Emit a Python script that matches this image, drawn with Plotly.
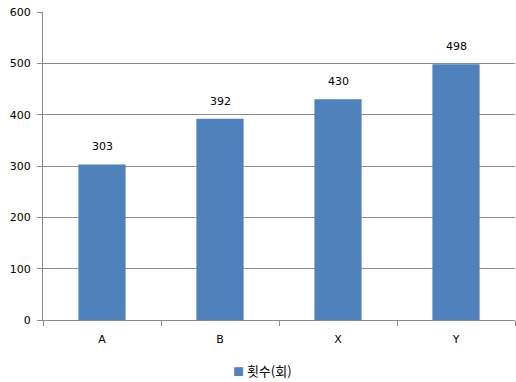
import plotly.graph_objects as go

categories = ["A", "B", "X", "Y"]
counts = [303, 392, 430, 498]
series_name = "횟수(회)"
y_ticks = [0, 100, 200, 300, 400, 500, 600]

font_family = "DejaVu Sans, Verdana, sans-serif"
kr_family = "Noto Sans CJK KR, Noto Sans, sans-serif"
bar_color = "#4f81bd"
grid_color = "#8c8c8c"

fig = go.Figure(
    go.Bar(
        x=categories,
        y=counts,
        name=series_name,
        marker=dict(color=bar_color, line=dict(width=0)),
        showlegend=False,
    )
)

# value labels above each bar
for cat, val in zip(categories, counts):
    fig.add_annotation(
        x=cat,
        y=val,
        text=str(val),
        showarrow=False,
        xref="x",
        yref="y",
        yanchor="bottom",
        yshift=9,
        font=dict(size=11, color="#000000", family=font_family),
    )

# legend entry below the plot
fig.add_annotation(
    x=0.464,
    y=-0.165,
    xref="paper",
    yref="paper",
    xanchor="center",
    yanchor="middle",
    showarrow=False,
    text=f"<span style='color:{bar_color};font-size:11px'>■</span> {series_name}",
    font=dict(size=13, color="#000000", family=kr_family),
)

fig.update_layout(
    width=516,
    height=382,
    margin=dict(l=43, r=1, t=12, b=62, autoexpand=False),
    paper_bgcolor="white",
    plot_bgcolor="white",
    bargap=0.6,
    showlegend=False,
    font=dict(family=font_family, size=11, color="#000000"),
)

fig.update_xaxes(
    type="category",
    tickson="boundaries",
    ticks="outside",
    ticklen=5,
    tickcolor=grid_color,
    showline=True,
    linecolor=grid_color,
    linewidth=1,
    showgrid=False,
    ticklabelstandoff=9,
    tickfont=dict(size=11, color="#000000", family=font_family),
)

fig.update_yaxes(
    range=[0, 600],
    tickvals=y_ticks,
    ticks="outside",
    ticklen=5,
    tickcolor=grid_color,
    showline=True,
    linecolor=grid_color,
    linewidth=1,
    showgrid=True,
    gridcolor=grid_color,
    gridwidth=1,
    zeroline=False,
    ticklabelstandoff=4,
    tickfont=dict(size=11, color="#000000", family=font_family),
)

fig.write_html("out.html")
